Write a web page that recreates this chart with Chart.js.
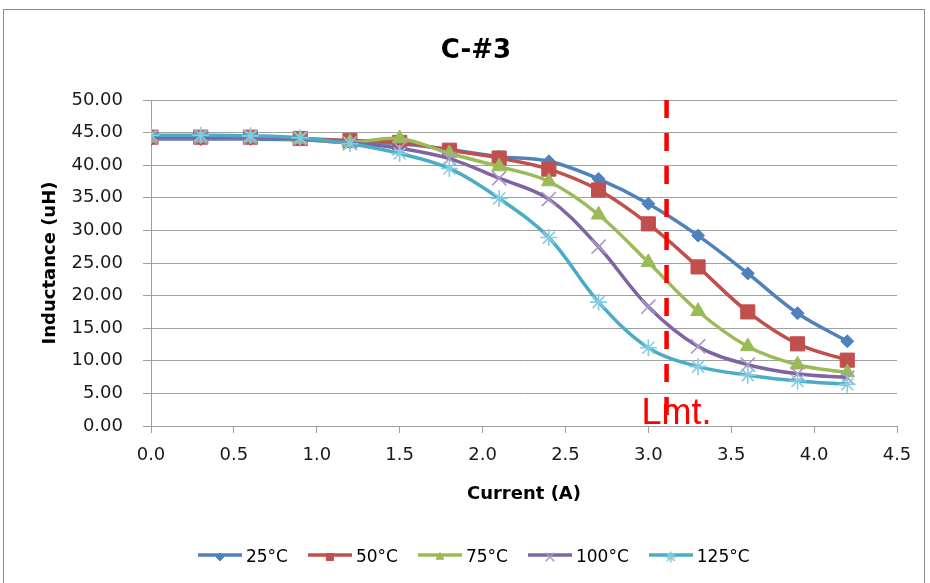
<!DOCTYPE html>
<html>
<head>
<meta charset="utf-8">
<script src="https://cdn.jsdelivr.net/npm/chart.js@4.4.1/dist/chart.umd.min.js"></script>
<style>
  html, body { margin: 0; padding: 0; background: #ffffff; }
  #wrap { position: relative; width: 930px; height: 583px; overflow: hidden; background: #ffffff; }
  #frame { position: absolute; left: 3px; top: 9px; width: 922px; height: 640px; border: 1px solid #8c8c8c; box-sizing: border-box; }
  #c { position: absolute; left: 0; top: 0; }
</style>
</head>
<body>
<div id="wrap">
  <div id="frame"></div>
  <canvas id="c" width="930" height="583"></canvas>
</div>
<script>
// ---- data ----
const currents = [0.0, 0.3, 0.6, 0.9, 1.2, 1.5, 1.8, 2.1, 2.4, 2.7, 3.0, 3.3, 3.6, 3.9, 4.2];
const seriesNames = ['25°C', '50°C', '75°C', '100°C', '125°C'];
const ind25  = [44.0, 44.0, 44.0, 43.9, 43.5, 43.3, 42.4, 41.3, 40.6, 37.9, 34.1, 29.2, 23.4, 17.3, 13.0];
const ind50  = [44.3, 44.3, 44.3, 44.1, 43.8, 43.5, 42.3, 41.1, 39.4, 36.2, 31.0, 24.4, 17.5, 12.6, 10.1];
const ind75  = [44.2, 44.2, 44.2, 44.0, 43.5, 44.1, 41.8, 39.8, 37.5, 32.4, 25.1, 17.6, 12.2, 9.4, 8.2];
const ind100 = [44.2, 44.2, 44.2, 44.0, 43.4, 42.6, 41.0, 38.0, 34.8, 27.5, 18.3, 12.2, 9.4, 8.0, 7.4];
const ind125 = [44.6, 44.6, 44.5, 44.2, 43.3, 41.8, 39.5, 34.9, 28.9, 19.0, 12.0, 9.1, 7.8, 6.9, 6.4];
const lmtCurrent = 3.11;
const lmtSpan = [50, 0];
const lmtLabel = 'Lmt.';
const xTickLabels = ['0.0', '0.5', '1.0', '1.5', '2.0', '2.5', '3.0', '3.5', '4.0', '4.5'];
const yTickLabels = ['0.00', '5.00', '10.00', '15.00', '20.00', '25.00', '30.00', '35.00', '40.00', '45.00', '50.00'];
const chartTitle = 'C-#3';
const xTitle = 'Current (A)';
const yTitle = 'Inductance (uH)';

// ---- styles ----
const allSeries = [ind25, ind50, ind75, ind100, ind125];
const lineColors = ['#4F81BD', '#C0504D', '#9BBB59', '#8064A2', '#4BACC6'];
const markerFill = ['#4F81BD', '#C0504D', '#9BBB59', '#A898C9', '#86CCE0'];
const markerStyle = ['rectRot', 'rect', 'triangle', 'crossRot', 'star'];
const markerRadius = [6.5, 10, 8.5, 10, 8.5];
const markerBorder = [1, 1, 1, 1.6, 1.6];
const legendMarkerRadius = [4, 5, 4.5, 6, 5.5];

Chart.defaults.font.family = '"DejaVu Sans", sans-serif';
Chart.defaults.color = '#1a1a1a';

function makeLegendImage(i) {
  const cv = document.createElement('canvas');
  cv.width = 44; cv.height = 20;
  const g = cv.getContext('2d');
  g.strokeStyle = lineColors[i];
  g.lineWidth = 3.5;
  g.beginPath(); g.moveTo(0, 7); g.lineTo(44, 7); g.stroke();
  g.fillStyle = markerFill[i];
  g.strokeStyle = markerFill[i];
  g.lineWidth = markerBorder[i];
  Chart.helpers.drawPoint(g, {pointStyle: markerStyle[i], radius: legendMarkerRadius[i], rotation: 0, borderWidth: markerBorder[i]}, 22, 9);
  return cv;
}
const legendImages = seriesNames.map((n, i) => makeLegendImage(i));

const datasets = allSeries.map((vals, i) => ({
  label: seriesNames[i],
  data: currents.map((x, k) => ({x: x, y: vals[k]})),
  borderColor: lineColors[i],
  backgroundColor: markerFill[i],
  borderWidth: 3.5,
  tension: 0.35,
  pointStyle: markerStyle[i],
  pointRadius: markerRadius[i],
  pointBackgroundColor: markerFill[i],
  pointBorderColor: markerFill[i],
  pointBorderWidth: markerBorder[i],
  fill: false,
  order: 5 - i + 1
}));
datasets.push({
  label: lmtLabel,
  data: lmtSpan.map(v => ({x: lmtCurrent, y: v})),
  borderColor: '#FF0000',
  borderWidth: 4.5,
  borderDash: [18, 15],
  pointRadius: 0,
  tension: 0,
  fill: false,
  order: 0
});

const lmtTextPlugin = {
  id: 'lmtText',
  afterDatasetsDraw(chart) {
    const xs = chart.scales.x, ys = chart.scales.y;
    const ctx = chart.ctx;
    ctx.save();
    ctx.font = '36px "Liberation Sans", Arial, sans-serif';
    ctx.fillStyle = '#FF0000';
    ctx.textBaseline = 'alphabetic';
    ctx.textAlign = 'left';
    ctx.fillText(lmtLabel, xs.getPixelForValue(lmtCurrent) - 25, ys.getPixelForValue(0) - 2);
    ctx.restore();
  }
};

new Chart(document.getElementById('c'), {
  type: 'line',
  data: { datasets: datasets },
  plugins: [lmtTextPlugin],
  options: {
    responsive: false,
    animation: false,
    layout: { padding: { left: 55, right: 33, top: 0, bottom: 6.5 } },
    plugins: {
      tooltip: { enabled: false },
      title: {
        display: true,
        text: chartTitle,
        color: '#000000',
        font: { size: 26, weight: 'bold' },
        padding: { top: 36, bottom: 32.8 }
      },
      legend: {
        display: true,
        position: 'bottom',
        labels: {
          usePointStyle: true,
          pointStyleWidth: 35,
          padding: 24.5,
          color: '#1a1a1a',
          font: { size: 17 },
          generateLabels(chart) {
            return seriesNames.map((n, i) => ({
              text: n,
              pointStyle: legendImages[i],
              datasetIndex: i,
              fillStyle: lineColors[i],
              strokeStyle: lineColors[i],
              lineWidth: 0,
              hidden: false
            }));
          }
        }
      }
    },
    scales: {
      x: {
        type: 'linear',
        min: 0, max: 4.5,
        afterFit(s) { s.height = 99; },
        ticks: {
          stepSize: 0.5,
          padding: 12,
          color: '#1a1a1a',
          font: { size: 18 },
          callback: (v, i) => xTickLabels[i]
        },
        grid: { drawOnChartArea: false, drawTicks: true, tickLength: 7, color: '#a0a0a0', lineWidth: 1 },
        border: { display: true, color: '#a0a0a0', width: 1 },
        title: {
          display: true, text: xTitle, color: '#000000',
          font: { size: 18, weight: 'bold' },
          padding: { top: 0, bottom: 20.2 }
        }
      },
      y: {
        min: 0, max: 50,
        afterFit(s) { s.width = 96; },
        ticks: {
          stepSize: 5,
          padding: 20,
          color: '#1a1a1a',
          font: { size: 18 },
          callback: (v, i) => yTickLabels[i]
        },
        grid: { drawTicks: true, tickLength: 8, color: '#a0a0a0', lineWidth: 1 },
        border: { display: true, color: '#a0a0a0', width: 1 },
        title: {
          display: true, text: yTitle, color: '#000000',
          font: { size: 18, weight: 'bold' },
          padding: { top: -15.8, bottom: 0 }
        }
      }
    }
  }
});
</script>
</body>
</html>
